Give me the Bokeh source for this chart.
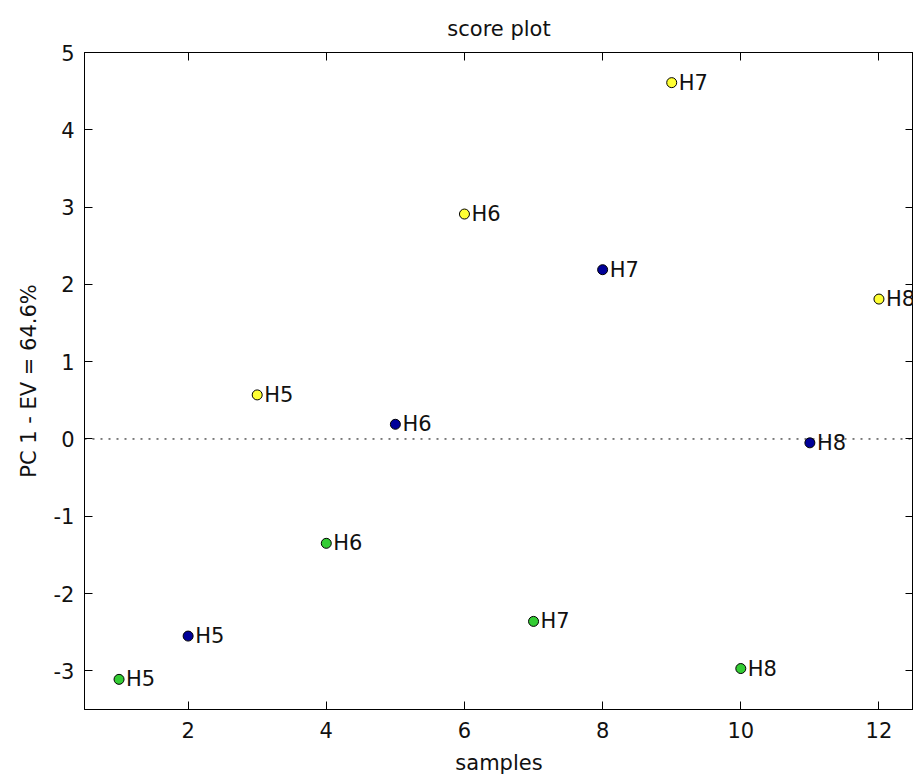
from bokeh.plotting import figure
from bokeh.models import LinearAxis, FixedTicker, Span, ColumnDataSource
from bokeh.embed import file_html
from bokeh.resources import INLINE
from bokeh.core.properties import value

# ---- data ----
samples = [1, 2, 3, 4, 5, 6, 7, 8, 9, 10, 11, 12]
scores = [-3.11, -2.55, 0.57, -1.35, 0.19, 2.91, -2.36, 2.19, 4.61, -2.97, -0.05, 1.81]
labels = ["H5", "H5", "H5", "H6", "H6", "H6", "H7", "H7", "H7", "H8", "H8", "H8"]
groups = ["g", "b", "y", "g", "b", "y", "g", "b", "y", "g", "b", "y"]
x_ticks = [2, 4, 6, 8, 10, 12]
y_ticks = [-3, -2, -1, 0, 1, 2, 3, 4, 5]
title_text = "score plot"
x_label = "samples"
y_label = "PC 1 - EV = 64.6%"

group_colors = {"g": "#33cc33", "b": "#000099", "y": "#ffff33"}
FONT = "DejaVu Sans"
FS = "21px"

src = ColumnDataSource(dict(
    x=samples, y=scores, label=labels,
    color=[group_colors[g] for g in groups],
))

p = figure(width=913, height=778, x_range=(0.5, 12.5), y_range=(-3.5, 5),
           output_backend="svg", toolbar_location=None,
           min_border_left=84, min_border_right=0, min_border_top=52,
           min_border_bottom=69)
p.background_fill_color = "white"
p.border_fill_color = "white"
p.outline_line_color = "black"
p.xgrid.visible = False
p.ygrid.visible = False

p.title.text = title_text
p.title.align = "center"
p.title.text_font = FONT
p.title.text_font_size = FS
p.title.text_font_style = "normal"
p.title.text_color = "#111111"
try:
    p.title.standoff = 24
    moved_title = True
except AttributeError:
    moved_title = False

def style_axis(ax, ticks, labels_on=True):
    ax.ticker = FixedTicker(ticks=ticks)
    ax.axis_line_color = "black"
    ax.axis_line_width = 1
    ax.major_tick_in = 8
    ax.major_tick_out = 0
    ax.major_tick_line_color = "black"
    ax.minor_tick_line_color = None
    if labels_on:
        ax.major_label_overrides = {t: str(t) for t in ticks}
        ax.major_label_text_font = FONT
        ax.major_label_text_font_size = FS
        ax.major_label_text_color = "#111111"
        ax.axis_label_text_font = FONT
        ax.axis_label_text_font_size = FS
        ax.axis_label_text_font_style = "normal"
        ax.axis_label_text_color = "#111111"
    else:
        ax.major_label_overrides = {t: "" for t in ticks}
        ax.major_label_text_font_size = "12px"
        ax.major_label_standoff = 0

style_axis(p.xaxis[0], x_ticks)
style_axis(p.yaxis[0], y_ticks)
p.xaxis[0].axis_label = x_label
p.yaxis[0].axis_label = y_label
p.xaxis[0].major_label_standoff = 12
p.xaxis[0].axis_label_standoff = 10
p.yaxis[0].major_label_standoff = 10
p.yaxis[0].axis_label_standoff = 10

top_ax = LinearAxis()
style_axis(top_ax, x_ticks, labels_on=False)
if not moved_title:
    top_ax.axis_label = " "
    top_ax.axis_label_text_font_size = "12px"
    top_ax.axis_label_standoff = 0
p.add_layout(top_ax, "above")
right_ax = LinearAxis()
style_axis(right_ax, y_ticks, labels_on=False)
p.add_layout(right_ax, "right")

p.add_layout(Span(location=0, dimension="width", line_color="black",
                  line_width=1, line_dash="2 6"))

p.scatter("x", "y", source=src, size=10, fill_color="color",
          line_color="black", line_width=1)
p.text("x", "y", text="label", source=src, x_offset=7,
       text_baseline="middle", text_align="left",
       text_font=value(FONT), text_font_size=FS, text_color="#111111")

open("out.html", "w").write(file_html(p, INLINE))
